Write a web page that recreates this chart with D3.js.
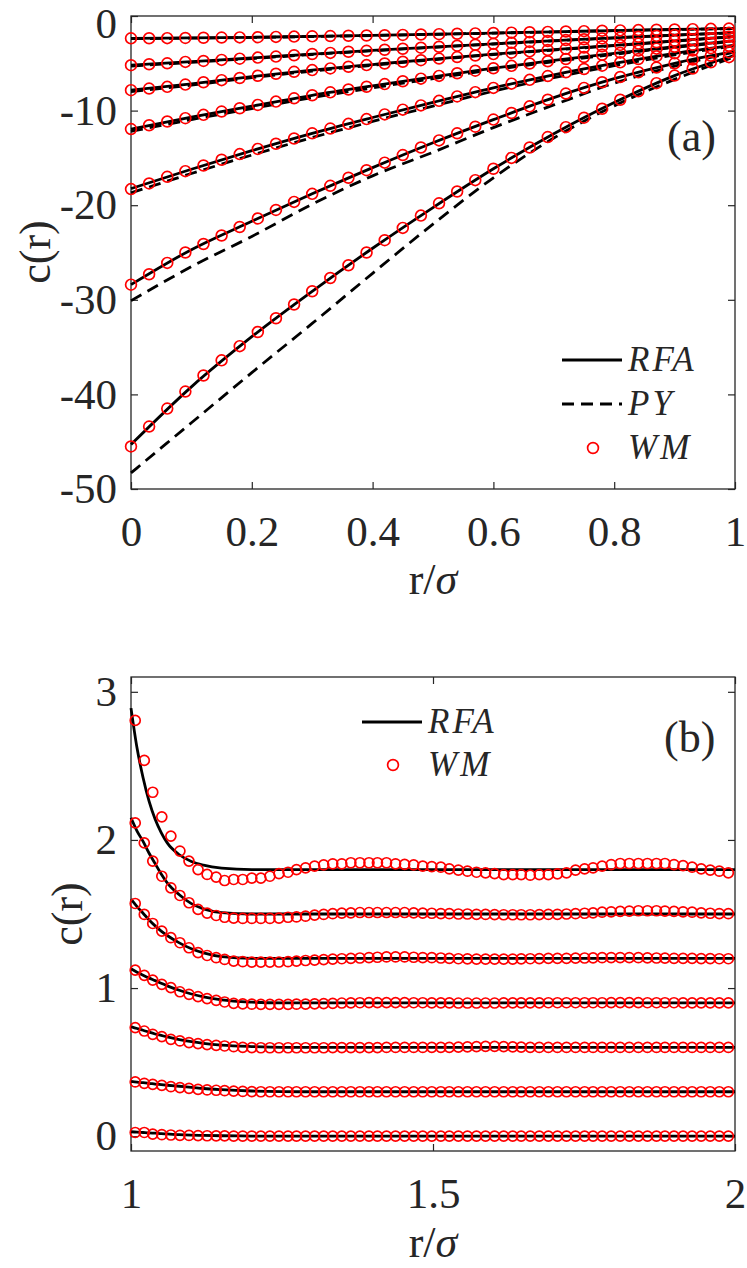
<!DOCTYPE html>
<html>

<head>
	<meta charset="utf-8">
	<title>c(r): RFA, PY and WM</title>
	<script src="https://cdn.jsdelivr.net/npm/d3@7/dist/d3.min.js"></script>
	<style>
		body {
			margin: 0;
			background: #fff;
		}

		svg text {
			font-family: "Liberation Serif", "Times New Roman", serif;
			fill: #262626;
		}

		.axis text {
			font-size: 43px;
		}

		.axis line {
			stroke: #262626;
			stroke-width: 1.2px;
		}

		.axis .domain {
			stroke: none;
		}

		.box {
			fill: none;
			stroke: #262626;
			stroke-width: 1.3px;
		}

		.rfa {
			fill: none;
			stroke: #000;
			stroke-width: 2.8px;
		}

		.py {
			fill: none;
			stroke: #000;
			stroke-width: 2.8px;
			stroke-dasharray: 12 7;
		}

		.wm {
			fill: none;
			stroke: #ff0000;
			stroke-width: 1.7px;
		}

		.leg {
			font-size: 35px;
			font-style: italic;
			letter-spacing: 3px;
		}
	</style>
</head>

<body>
	<svg id="fig" width="747" height="1268"></svg>

	<script>
		// ---------- panel (a) ----------
		var rA = [0, 0.03, 0.06, 0.09, 0.12, 0.15, 0.18, 0.21, 0.24, 0.27, 0.3, 0.33, 0.36, 0.39, 0.42, 0.45, 0.48,
			0.51, 0.54, 0.57, 0.6, 0.63, 0.66, 0.69, 0.72, 0.75, 0.78, 0.81, 0.84, 0.87, 0.9, 0.93, 0.96, 0.99];

		var wmA1 = [-2.36, -2.35, -2.34, -2.32, -2.30, -2.28, -2.26, -2.24, -2.21, -2.18, -2.15, -2.12, -2.09, -2.06, -2.03, -2.00, -1.96,
			-1.92, -1.88, -1.84, -1.80, -1.76, -1.72, -1.68, -1.64, -1.60, -1.56, -1.52, -1.49, -1.45, -1.42, -1.39, -1.36, -1.33];
		var wmA2 = [-5.20, -5.10, -5.00, -4.85, -4.75, -4.64, -4.51, -4.40, -4.29, -4.15, -4.02, -3.90, -3.78, -3.68, -3.57, -3.46, -3.35,
			-3.25, -3.14, -3.04, -2.94, -2.84, -2.74, -2.64, -2.55, -2.46, -2.37, -2.28, -2.19, -2.10, -2.02, -1.94, -1.86, -1.78];
		var wmA3 = [-7.84, -7.67, -7.49, -7.25, -7.00, -6.78, -6.55, -6.32, -6.10, -5.90, -5.72, -5.54, -5.36, -5.19, -5.02, -4.84, -4.67,
			-4.50, -4.34, -4.18, -4.03, -3.88, -3.74, -3.60, -3.47, -3.34, -3.20, -3.06, -2.92, -2.78, -2.63, -2.49, -2.34, -2.20];
		var wmA4 = [-11.95, -11.55, -11.15, -10.80, -10.45, -10.10, -9.75, -9.40, -9.05, -8.70, -8.38, -8.07, -7.77, -7.48, -7.20, -6.90, -6.62,
			-6.33, -6.05, -5.78, -5.52, -5.27, -5.02, -4.78, -4.55, -4.33, -4.10, -3.88, -3.66, -3.45, -3.25, -3.05, -2.85, -2.65];
		var wmA5 = [-18.30, -17.70, -17.00, -16.40, -15.80, -15.20, -14.60, -14.05, -13.50, -12.95, -12.40, -11.90, -11.40, -10.90, -10.40, -9.90, -9.45,
			-8.97, -8.50, -8.05, -7.60, -7.15, -6.75, -6.35, -5.95, -5.60, -5.25, -4.90, -4.55, -4.25, -3.95, -3.65, -3.40, -3.15];
		var wmA6 = [-28.40, -27.30, -26.10, -25.00, -24.10, -23.20, -22.30, -21.40, -20.50, -19.65, -18.80, -17.95, -17.10, -16.30, -15.50, -14.70, -13.90,
			-13.15, -12.40, -11.70, -10.95, -10.25, -9.55, -8.85, -8.20, -7.60, -7.00, -6.45, -5.95, -5.45, -5.00, -4.60, -4.20, -3.85];
		var wmA7 = [-45.50, -43.40, -41.50, -39.70, -38.00, -36.40, -34.90, -33.40, -31.95, -30.50, -29.10, -27.70, -26.35, -25.00, -23.70, -22.40, -21.10,
			-19.80, -18.55, -17.35, -16.15, -15.00, -13.90, -12.80, -11.75, -10.75, -9.80, -8.85, -7.95, -7.10, -6.30, -5.55, -4.90, -4.35];

		var rLineA = [0, 0.1, 0.2, 0.3, 0.4, 0.5, 0.6, 0.7, 0.8, 0.9, 1];

		var rfaA1 = [-2.36, -2.31, -2.25, -2.15, -2.05, -1.93, -1.80, -1.67, -1.54, -1.42, -1.31];
		var rfaA2 = [-5.20, -4.82, -4.44, -4.02, -3.64, -3.28, -2.94, -2.61, -2.31, -2.02, -1.75];
		var rfaA3 = [-7.84, -7.17, -6.40, -5.72, -5.13, -4.56, -4.03, -3.56, -3.11, -2.63, -2.15];
		var rfaA4 = [-11.95, -10.68, -9.52, -8.38, -7.38, -6.43, -5.52, -4.70, -3.95, -3.25, -2.60];
		var rfaA5 = [-18.25, -16.20, -14.24, -12.40, -10.73, -9.13, -7.60, -6.22, -5.02, -3.95, -3.08];
		var rfaA6 = [-28.40, -24.70, -21.70, -18.80, -16.03, -13.40, -10.95, -8.63, -6.63, -5.00, -3.75];
		var rfaA7 = [-45.30, -39.20, -33.90, -29.10, -24.55, -20.25, -16.15, -12.45, -9.15, -6.30, -4.15];

		var pyA1 = [-2.40, -2.34, -2.27, -2.17, -2.06, -1.94, -1.81, -1.68, -1.55, -1.43, -1.32];
		var pyA2 = [-5.30, -4.90, -4.50, -4.07, -3.68, -3.31, -2.96, -2.63, -2.32, -2.03, -1.76];
		var pyA3 = [-8.00, -7.30, -6.52, -5.82, -5.21, -4.63, -4.08, -3.60, -3.14, -2.66, -2.17];
		var pyA4 = [-12.20, -10.95, -9.78, -8.63, -7.60, -6.62, -5.68, -4.83, -4.05, -3.32, -2.64];
		var pyA5 = [-18.70, -16.65, -14.70, -12.85, -11.15, -9.52, -7.95, -6.52, -5.25, -4.12, -3.15];
		var pyA6 = [-30.10, -26.50, -23.30, -19.90, -16.90, -14.40, -11.80, -9.40, -7.10, -5.30, -3.80];
		var pyA7 = [-48.30, -43.00, -37.70, -32.50, -27.20, -22.00, -17.10, -12.90, -9.50, -6.70, -4.30];

		var xTicksA = [0, 0.2, 0.4, 0.6, 0.8, 1];
		var yTicksA = [0, -10, -20, -30, -40, -50];

		// ---------- panel (b) ----------
		var rB = [1.007, 1.022, 1.036, 1.051, 1.066, 1.081, 1.096, 1.111, 1.126, 1.141,
			1.155, 1.170, 1.185, 1.200, 1.215, 1.230, 1.245, 1.260, 1.274, 1.289,
			1.304, 1.319, 1.334, 1.349, 1.364, 1.379, 1.394, 1.408, 1.423, 1.438,
			1.453, 1.468, 1.483, 1.498, 1.513, 1.527, 1.542, 1.557, 1.572, 1.587,
			1.602, 1.617, 1.632, 1.646, 1.661, 1.676, 1.691, 1.706, 1.721, 1.736,
			1.751, 1.765, 1.780, 1.795, 1.810, 1.825, 1.840, 1.855, 1.870, 1.884,
			1.899, 1.914, 1.929, 1.944, 1.959, 1.974, 1.989];

		var wmB1 = [0.025, 0.025, 0.014, 0.010, 0.008, 0.006, 0.005, 0.004, 0.003, 0.002,
			0.002, 0.001, 0.001, 0.001, 0.000, 0.000, 0.000, 0.000, 0.000, 0.000,
			0.000, 0.000, 0.000, 0.000, 0.000, 0.000, 0.000, 0.000, 0.000, 0.000,
			0.000, 0.000, 0.000, 0.000, 0.000, 0.000, 0.000, 0.000, 0.000, 0.000,
			0.000, 0.000, 0.000, 0.000, 0.000, 0.000, 0.000, 0.000, 0.000, 0.000,
			0.000, 0.000, 0.000, 0.000, 0.000, 0.000, 0.000, 0.000, 0.000, 0.000,
			0.000, 0.000, 0.000, 0.000, 0.000, 0.000, 0.000];
		var wmB2 = [0.366, 0.357, 0.350, 0.343, 0.334, 0.328, 0.323, 0.316, 0.312, 0.310,
			0.307, 0.304, 0.302, 0.301, 0.300, 0.300, 0.300, 0.300, 0.300, 0.300,
			0.300, 0.300, 0.300, 0.300, 0.300, 0.300, 0.300, 0.300, 0.300, 0.300,
			0.300, 0.300, 0.300, 0.300, 0.300, 0.300, 0.300, 0.300, 0.300, 0.300,
			0.300, 0.300, 0.300, 0.300, 0.300, 0.300, 0.300, 0.300, 0.300, 0.300,
			0.300, 0.300, 0.300, 0.300, 0.300, 0.300, 0.300, 0.300, 0.300, 0.300,
			0.300, 0.300, 0.300, 0.300, 0.300, 0.300, 0.300];
		var wmB3 = [0.733, 0.710, 0.688, 0.672, 0.654, 0.643, 0.632, 0.625, 0.618, 0.613,
			0.609, 0.604, 0.600, 0.598, 0.597, 0.597, 0.597, 0.597, 0.597, 0.597,
			0.597, 0.597, 0.598, 0.598, 0.598, 0.598, 0.598, 0.598, 0.599, 0.599,
			0.599, 0.599, 0.599, 0.600, 0.600, 0.600, 0.601, 0.603, 0.605, 0.606,
			0.606, 0.605, 0.603, 0.601, 0.600, 0.599, 0.599, 0.599, 0.599, 0.599,
			0.599, 0.599, 0.599, 0.599, 0.599, 0.599, 0.599, 0.599, 0.599, 0.599,
			0.599, 0.599, 0.599, 0.599, 0.599, 0.599, 0.599];
		var wmB4 = [1.121, 1.086, 1.054, 1.025, 1.003, 0.975, 0.958, 0.942, 0.929, 0.917,
			0.906, 0.897, 0.893, 0.891, 0.890, 0.890, 0.890, 0.890, 0.891, 0.892,
			0.893, 0.895, 0.897, 0.899, 0.900, 0.901, 0.902, 0.902, 0.902, 0.902,
			0.902, 0.901, 0.901, 0.900, 0.900, 0.900, 0.899, 0.899, 0.899, 0.899,
			0.899, 0.900, 0.900, 0.900, 0.900, 0.900, 0.901, 0.901, 0.901, 0.901,
			0.901, 0.901, 0.901, 0.902, 0.902, 0.902, 0.902, 0.901, 0.901, 0.901,
			0.901, 0.900, 0.900, 0.900, 0.900, 0.900, 0.900];
		var wmB5 = [1.571, 1.497, 1.436, 1.384, 1.340, 1.306, 1.272, 1.239, 1.220, 1.205,
			1.193, 1.182, 1.178, 1.175, 1.175, 1.175, 1.176, 1.178, 1.182, 1.186,
			1.189, 1.192, 1.195, 1.198, 1.200, 1.203, 1.206, 1.208, 1.210, 1.210,
			1.210, 1.208, 1.206, 1.205, 1.203, 1.200, 1.198, 1.197, 1.196, 1.195,
			1.195, 1.195, 1.196, 1.197, 1.198, 1.199, 1.200, 1.200, 1.201, 1.202,
			1.203, 1.204, 1.205, 1.206, 1.206, 1.206, 1.205, 1.204, 1.203, 1.202,
			1.201, 1.200, 1.200, 1.199, 1.199, 1.198, 1.198];
		var wmB6 = [2.115, 1.980, 1.857, 1.755, 1.677, 1.625, 1.576, 1.531, 1.506, 1.490,
			1.478, 1.472, 1.470, 1.470, 1.470, 1.470, 1.472, 1.478, 1.480, 1.485,
			1.492, 1.497, 1.502, 1.506, 1.508, 1.510, 1.510, 1.510, 1.510, 1.510,
			1.510, 1.508, 1.506, 1.505, 1.503, 1.502, 1.500, 1.500, 1.498, 1.497,
			1.496, 1.495, 1.495, 1.495, 1.495, 1.496, 1.497, 1.498, 1.500, 1.502,
			1.505, 1.508, 1.512, 1.515, 1.518, 1.520, 1.522, 1.522, 1.522, 1.520,
			1.518, 1.515, 1.512, 1.508, 1.505, 1.503, 1.502];
		var wmB7 = [2.807, 2.537, 2.322, 2.156, 2.026, 1.925, 1.857, 1.800, 1.767, 1.749,
			1.726, 1.733, 1.733, 1.742, 1.742, 1.755, 1.773, 1.782, 1.800, 1.811,
			1.823, 1.832, 1.839, 1.839, 1.846, 1.846, 1.846, 1.846, 1.846, 1.839,
			1.835, 1.832, 1.823, 1.820, 1.816, 1.805, 1.796, 1.789, 1.782, 1.778,
			1.773, 1.766, 1.766, 1.766, 1.762, 1.766, 1.766, 1.771, 1.778, 1.796,
			1.805, 1.812, 1.823, 1.834, 1.841, 1.841, 1.841, 1.841, 1.841, 1.841,
			1.834, 1.827, 1.816, 1.805, 1.796, 1.789, 1.778];

		var rLineB = [1, 1.01, 1.02, 1.03, 1.04, 1.05, 1.06, 1.08, 1.1, 1.12, 1.15, 1.2, 1.25, 1.3, 1.5, 1.7, 2];

		var rfaB1 = [0.030, 0.028, 0.025, 0.022, 0.020, 0.017, 0.015, 0.010, 0.007, 0.005, 0.003, 0.001, 0, 0, 0, 0, 0];
		var rfaB2 = [0.370, 0.365, 0.361, 0.357, 0.352, 0.348, 0.344, 0.337, 0.330, 0.322, 0.314, 0.305, 0.301, 0.300, 0.300, 0.300, 0.300];
		var rfaB3 = [0.740, 0.727, 0.715, 0.702, 0.690, 0.680, 0.670, 0.652, 0.638, 0.627, 0.615, 0.605, 0.600, 0.600, 0.600, 0.600, 0.600];
		var rfaB4 = [1.130, 1.107, 1.086, 1.067, 1.050, 1.032, 1.015, 0.985, 0.960, 0.940, 0.920, 0.905, 0.900, 0.900, 0.900, 0.900, 0.900];
		var rfaB5 = [1.600, 1.550, 1.505, 1.460, 1.420, 1.385, 1.355, 1.305, 1.265, 1.237, 1.212, 1.200, 1.200, 1.200, 1.200, 1.200, 1.200];
		var rfaB6 = [2.150, 2.060, 1.990, 1.910, 1.840, 1.770, 1.710, 1.630, 1.570, 1.535, 1.510, 1.500, 1.500, 1.500, 1.500, 1.500, 1.500];
		var rfaB7 = [2.890, 2.620, 2.420, 2.260, 2.140, 2.050, 1.980, 1.900, 1.855, 1.830, 1.810, 1.800, 1.800, 1.800, 1.800, 1.800, 1.800];

		var xTicksB = [1, 1.5, 2];
		var yTicksB = [0, 1, 2, 3];

		var svg = d3.select('#fig');

		var xA = d3.scaleLinear().domain([0, 1]).range([131, 735]),
			yA = d3.scaleLinear().domain([-50, 0]).range([489, 16]),
			xB = d3.scaleLinear().domain([1, 2]).range([131, 735]),
			yB = d3.scaleLinear().domain([-0.1, 3.1]).range([1151, 677]);

		var fmt = d => String(d);

		// draws the box with inward ticks on all four sides, returns the left axis group
		function frame(x, y, xt, yt) {
			var x0 = x.range()[0], x1 = x.range()[1],
				y0 = y.range()[0], y1 = y.range()[1];

			var axes = [
				[d3.axisBottom(x).tickValues(xt).tickFormat(fmt).tickPadding(26), 'translate(0,' + y0 + ')'],
				[d3.axisTop(x).tickValues(xt).tickFormat(() => ''), 'translate(0,' + y1 + ')'],
				[d3.axisLeft(y).tickValues(yt).tickFormat(fmt).tickPadding(14), 'translate(' + x0 + ',0)'],
				[d3.axisRight(y).tickValues(yt).tickFormat(() => ''), 'translate(' + x1 + ',0)']
			];
			var groups = axes.map(a => svg.append('g')
				.attr('class', 'axis')
				.attr('transform', a[1])
				.call(a[0].tickSizeInner(-7).tickSizeOuter(0))
				.attr('font-size', null)
				.attr('font-family', null));

			svg.append('rect')
				.attr('class', 'box')
				.attr('x', x0)
				.attr('y', y1)
				.attr('width', x1 - x0)
				.attr('height', y0 - y1);

			return groups[2];
		}

		function curves(x, y, rl, lines, cls) {
			var line = d3.line()
				.curve(d3.curveMonotoneX)
				.x(d => x(d[0]))
				.y(d => y(d[1]));
			svg.append('g')
				.selectAll('path')
				.data(lines)
				.enter()
				.append('path')
				.attr('class', cls)
				.attr('d', v => line(d3.zip(rl, v)));
		}

		function dots(x, y, rs, sets, rad) {
			svg.append('g')
				.selectAll('g')
				.data(sets)
				.enter()
				.append('g')
				.selectAll('circle')
				.data(v => d3.zip(rs, v))
				.enter()
				.append('circle')
				.attr('class', 'wm')
				.attr('cx', d => x(d[0]))
				.attr('cy', d => y(d[1]))
				.attr('r', rad);
		}

		// panel (a)
		var leftA = frame(xA, yA, xTicksA, yTicksA);
		// the top "0" label sits a little lower in the original
		leftA.selectAll('.tick text').filter(d => d === 0).attr('dy', '0.5em');
		curves(xA, yA, rLineA, [pyA1, pyA2, pyA3, pyA4, pyA5, pyA6, pyA7], 'py');
		curves(xA, yA, rLineA, [rfaA1, rfaA2, rfaA3, rfaA4, rfaA5, rfaA6, rfaA7], 'rfa');
		dots(xA, yA, rA, [wmA1, wmA2, wmA3, wmA4, wmA5, wmA6, wmA7], 5.4);

		// panel (b)
		frame(xB, yB, xTicksB, yTicksB);
		curves(xB, yB, rLineB, [rfaB1, rfaB2, rfaB3, rfaB4, rfaB5, rfaB6, rfaB7], 'rfa');
		dots(xB, yB, rB, [wmB1, wmB2, wmB3, wmB4, wmB5, wmB6, wmB7], 5);

		// legends
		function legend(x, items) {
			items.forEach(it => {
				if (it.kind === 'wm') {
					svg.append('circle').attr('class', 'wm').attr('cx', x + 31).attr('cy', it.y).attr('r', 5.4);
				} else {
					svg.append('line').attr('class', it.kind)
						.attr('x1', x).attr('x2', x + 60).attr('y1', it.y).attr('y2', it.y);
				}
				svg.append('text').attr('class', 'leg')
					.attr('x', x + 66).attr('y', it.y + 11).text(it.label);
			});
		}
		legend(562, [{ kind: 'rfa', label: 'RFA', y: 360 }, { kind: 'py', label: 'PY', y: 404 }, { kind: 'wm', label: 'WM', y: 448 }]);
		legend(362, [{ kind: 'rfa', label: 'RFA', y: 722 }, { kind: 'wm', label: 'WM', y: 765 }]);

		// panel letters
		svg.append('text').attr('x', 667).attr('y', 151).style('font-size', '44px').text('(a)');
		svg.append('text').attr('x', 664).attr('y', 752).style('font-size', '44px').text('(b)');

		// axis titles
		[[50, 252], [82, 914]].forEach(p => {
			svg.append('text')
				.attr('transform', 'translate(' + p[0] + ',' + p[1] + ') rotate(-90)')
				.attr('text-anchor', 'middle')
				.style('font-size', '44px')
				.text('c(r)');
		});
		[594, 1257].forEach(yy => {
			var t = svg.append('text')
				.attr('x', 433).attr('y', yy)
				.attr('text-anchor', 'middle')
				.style('font-size', '44px');
			t.append('tspan').text('r/');
			t.append('tspan').style('font-style', 'italic').text('σ');
		});
	</script>
</body>

</html>
